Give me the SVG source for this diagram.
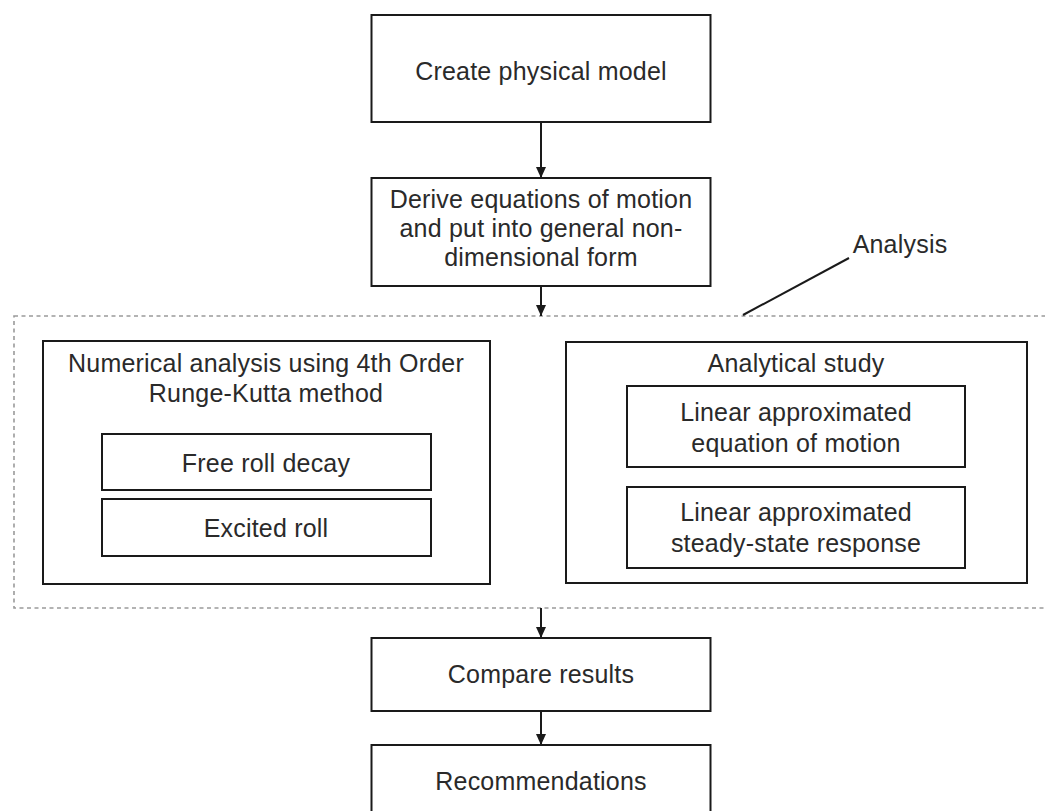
<svg xmlns="http://www.w3.org/2000/svg" width="1045" height="811" viewBox="0 0 1045 811">
  <defs>
    <marker id="arrow" markerWidth="10" markerHeight="12" refX="11" refY="5" orient="auto" markerUnits="userSpaceOnUse">
      <path d="M0,0 L11,5 L0,10 Z" fill="#1a1a1a"/>
    </marker>
    <style>
      .box { fill: #ffffff; stroke: #1a1a1a; stroke-width: 2; }
      .group { fill: none; stroke: #9a9a9a; stroke-width: 1.6; stroke-dasharray: 4 3.5; }
      .lbl { font-family: "Liberation Sans", Arial, sans-serif; font-size: 25px; fill: #2a2a2a; text-anchor: middle; letter-spacing: 0.2px; }
      .edge { stroke: #1a1a1a; stroke-width: 2; fill: none; }
    </style>
  </defs>
  <rect width="1045" height="811" fill="#ffffff"/>

  <!-- analysis boundary -->
  <g id="analysis-group">
    <rect class="group" x="14" y="316" width="1040" height="292"/>
    <text class="lbl" x="900" y="253">Analysis</text>
    <line x1="849" y1="258" x2="743" y2="315" stroke="#1a1a1a" stroke-width="2"/>
  </g>

  <g id="create-model">
    <rect class="box" x="371.5" y="15" width="339" height="107"/>
    <text class="lbl" x="541" y="80">Create physical model</text>
  </g>

  <g id="derive-equations">
    <rect class="box" x="371.5" y="178" width="339" height="108"/>
    <text class="lbl" x="541" y="208">Derive equations of motion</text>
    <text class="lbl" x="541" y="237">and put into general non-</text>
    <text class="lbl" x="541" y="266">dimensional form</text>
  </g>

  <g id="numerical-analysis">
    <rect class="box" x="43" y="341" width="447" height="243"/>
    <text class="lbl" x="266" y="372">Numerical analysis using 4th Order</text>
    <text class="lbl" x="266" y="402">Runge-Kutta method</text>
  </g>

  <g id="free-roll-decay">
    <rect class="box" x="102" y="434" width="329" height="56"/>
    <text class="lbl" x="266" y="472">Free roll decay</text>
  </g>

  <g id="excited-roll">
    <rect class="box" x="102" y="499" width="329" height="57"/>
    <text class="lbl" x="266" y="537">Excited roll</text>
  </g>

  <g id="analytical-study">
    <rect class="box" x="566" y="342" width="461" height="241"/>
    <text class="lbl" x="796" y="372">Analytical study</text>
  </g>

  <g id="linear-eom">
    <rect class="box" x="627" y="386" width="338" height="81"/>
    <text class="lbl" x="796" y="421">Linear approximated</text>
    <text class="lbl" x="796" y="452">equation of motion</text>
  </g>

  <g id="linear-steady-state">
    <rect class="box" x="627" y="487" width="338" height="81"/>
    <text class="lbl" x="796" y="521">Linear approximated</text>
    <text class="lbl" x="796" y="552">steady-state response</text>
  </g>

  <g id="compare-results">
    <rect class="box" x="371.5" y="638" width="339" height="73"/>
    <text class="lbl" x="541" y="683">Compare results</text>
  </g>

  <g id="recommendations">
    <rect class="box" x="371.5" y="745" width="339" height="80"/>
    <text class="lbl" x="541" y="790">Recommendations</text>
  </g>

  <g id="connectors">
    <line class="edge" x1="541" y1="122" x2="541" y2="178" marker-end="url(#arrow)"/>
    <line class="edge" x1="541" y1="286" x2="541" y2="316" marker-end="url(#arrow)"/>
    <line class="edge" x1="541" y1="608" x2="541" y2="638" marker-end="url(#arrow)"/>
    <line class="edge" x1="541" y1="711" x2="541" y2="745" marker-end="url(#arrow)"/>
  </g>
</svg>
